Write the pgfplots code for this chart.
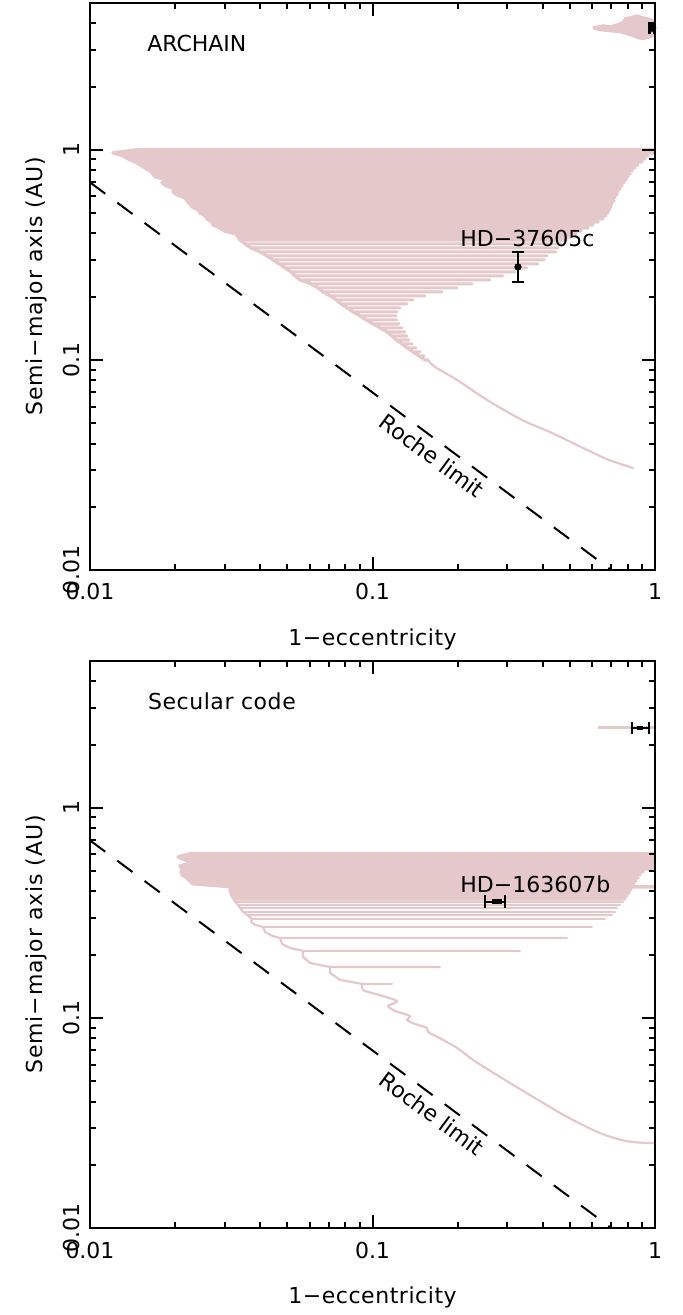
\documentclass[border=0pt]{standalone}
\usepackage{fontspec}
\setmainfont{DejaVu Sans}
\newfontfamily\widelabel[LetterSpace=4]{DejaVu Sans}
\newfontfamily\widetext[LetterSpace=2.5]{DejaVu Sans}
\usepackage{pgfplots}
\pgfplotsset{compat=1.18}
\definecolor{orbit}{RGB}{229,200,202}

\tikzset{
  orbitdense/.style={color=orbit, line width=1.7pt, line join=round, line cap=round},
  orbitline/.style={color=orbit, line width=1.6pt, line join=round, line cap=round},
  orbitthin/.style={color=orbit, line width=1.1pt, line join=round, line cap=round},
  roche/.style={color=black, line width=1pt, dash pattern=on 9.5pt off 7.5pt},
}

\begin{document}
\begin{tikzpicture}[font=\fontsize{11pt}{13pt}\selectfont]
\path[use as bounding box] (0,0) rectangle (341.5pt,657.5pt);

% ---------------- ARCHAIN ----------------
\begin{axis}[
    at={(45pt,372.5pt)}, anchor=south west,
    scale only axis, width=282.5pt, height=283.5pt,
    xmode=log, ymode=log,
    xmin=0.01, xmax=1, ymin=0.01, ymax=5,
    xtick={0.01,0.1,1}, xticklabels={0.01,0.1,1},
    ytick={0.01,0.1,1}, yticklabels={0.01,0.1,1},
    minor xtick={0.02,0.03,0.04,0.05,0.06,0.07,0.08,0.09,0.2,0.3,0.4,0.5,0.6,0.7,0.8,0.9},
    minor ytick={0.02,0.03,0.04,0.05,0.06,0.07,0.08,0.09,0.2,0.3,0.4,0.5,0.6,0.7,0.8,0.9,2,3,4},
    tick align=inside,
    major tick length=6.3pt, minor tick length=3pt,
    tick style={black, line width=1pt},
    axis line style={line width=1.1pt},
    xticklabel style={anchor=base, yshift=-15pt},
    yticklabel style={rotate=90, anchor=base, yshift=5pt},
    xlabel={\widetext 1−eccentricity}, ylabel={\widelabel Semi−major axis (AU)},
    xlabel style={at={(axis description cs:0.5,-0.134)}, anchor=base},
    ylabel style={at={(axis description cs:-0.0832,0.5)}, anchor=base},
    axis on top,
]
% outer companion, cloud of osculating elements
\addplot[color=orbit, fill=orbit, line width=0.5pt] coordinates {
(0.6034,3.852)(0.6545,3.938)(0.6929,3.895)(0.7336,3.981)(0.7642,4.070)
(0.7831,4.252)(0.8157,4.299)(0.8636,4.394)(0.9069,4.299)(0.9446,4.252)
(0.9838,4.160)(1.0,4.070)(1.0,3.490)(0.9601,3.415)(0.9069,3.341)
(0.8707,3.377)(0.8359,3.452)(0.7960,3.528)(0.7518,3.606)(0.6929,3.646)
(0.6387,3.687)(0.6034,3.769)(0.6034,3.852)};
% inner planet, eccentricity oscillations while the orbit shrinks
\addplot[orbitdense] coordinates {
(0.01467,1.0)(1,1.0)(0.01467,1.0)
(0.01206,0.9676)(1,0.9676)(0.01206,0.9676)
(0.01308,0.9363)(0.9446,0.9363)(0.01308,0.9363)
(0.01363,0.9060)(0.9218,0.9060)(0.01363,0.9060)
(0.01443,0.8767)(0.8995,0.8767)(0.01443,0.8767)
(0.01503,0.8483)(0.8707,0.8483)(0.01503,0.8483)
(0.01566,0.8209)(0.8497,0.8209)(0.01566,0.8209)
(0.01631,0.7943)(0.8291,0.7943)(0.01631,0.7943)
(0.01672,0.7686)(0.8157,0.7686)(0.01672,0.7686)
(0.01699,0.7437)(0.8025,0.7437)(0.01699,0.7437)
(0.01889,0.7197)(0.7895,0.7197)(0.01889,0.7197)
(0.01799,0.6964)(0.7767,0.6964)(0.01799,0.6964)
(0.01858,0.6739)(0.7642,0.6739)(0.01858,0.6739)
(0.01999,0.6520)(0.7518,0.6520)(0.01999,0.6520)
(0.01967,0.6310)(0.7396,0.6310)(0.01967,0.6310)
(0.02032,0.6105)(0.7336,0.6105)(0.02032,0.6105)
(0.02169,0.5908)(0.7218,0.5908)(0.02169,0.5908)
(0.02205,0.5717)(0.7159,0.5717)(0.02205,0.5717)
(0.02259,0.5532)(0.7043,0.5532)(0.02259,0.5532)
(0.02296,0.5353)(0.6986,0.5353)(0.02296,0.5353)
(0.02412,0.5179)(0.6929,0.5179)(0.02412,0.5179)
(0.02451,0.5012)(0.6817,0.5012)(0.02451,0.5012)
(0.02553,0.4850)(0.6707,0.4850)(0.02553,0.4850)
(0.02595,0.4693)(0.6545,0.4693)(0.02595,0.4693)
(0.02703,0.4541)(0.6284,0.4541)(0.02703,0.4541)
(0.02725,0.4394)(0.6034,0.4394)(0.02725,0.4394)
(0.02886,0.4252)(0.5792,0.4252)(0.02886,0.4252)
(0.02981,0.4114)(0.5471,0.4114)(0.02981,0.4114)
(0.03287,0.3981)(0.5252,0.3981)(0.03287,0.3981)
(0.03341,0.3852)(0.5042,0.3852)(0.03341,0.3852)
(0.03396,0.3728)(0.4841,0.3728)(0.03396,0.3728)
};
\addplot[orbitline] coordinates {
(0.03396,0.3728)
(0.03537,0.3568)(0.4648,0.3568)(0.03537,0.3568)
(0.03715,0.3415)(0.4536,0.3415)(0.03715,0.3415)
(0.03998,0.3268)(0.4463,0.3268)(0.03998,0.3268)
(0.04233,0.3128)(0.4147,0.3128)(0.04233,0.3128)
(0.04445,0.2994)(0.4047,0.2994)(0.04445,0.2994)
(0.04668,0.2865)(0.3854,0.2865)(0.04668,0.2865)
(0.04902,0.2742)(0.3523,0.2742)(0.04902,0.2742)
(0.05147,0.2625)(0.3195,0.2625)(0.05147,0.2625)
(0.05318,0.2512)(0.2897,0.2512)(0.05318,0.2512)
(0.05539,0.2404)(0.2606,0.2404)(0.05539,0.2404)
(0.06059,0.2301)(0.2250,0.2301)(0.06059,0.2301)
(0.06415,0.2202)(0.1992,0.2202)(0.06415,0.2202)
(0.06682,0.2108)(0.1762,0.2108)(0.06682,0.2108)
(0.07074,0.2017)(0.1534,0.2017)(0.07074,0.2017)
(0.07428,0.1931)(0.1391,0.1931)(0.07428,0.1931)
(0.07737,0.1848)(0.1325,0.1848)(0.07737,0.1848)
(0.08124,0.1769)(0.1251,0.1769)(0.08124,0.1769)
(0.08531,0.1693)(0.1221,0.1693)(0.08531,0.1693)
(0.09032,0.1620)(0.1211,0.1620)(0.09032,0.1620)
(0.09484,0.1551)(0.1221,0.1551)(0.09484,0.1551)
(0.1004,0.1484)(0.1241,0.1484)(0.1004,0.1484)
(0.1063,0.1421)(0.1272,0.1421)(0.1063,0.1421)
(0.1125,0.1359)(0.1303,0.1359)(0.1125,0.1359)
(0.1172,0.1301)(0.1325,0.1301)(0.1172,0.1301)
(0.1211,0.1245)(0.1346,0.1245)(0.1211,0.1245)
(0.1272,0.1192)(0.1380,0.1192)(0.1272,0.1192)
(0.1325,0.1141)(0.1425,0.1141)(0.1325,0.1141)
(0.1391,0.1092)(0.1473,0.1092)(0.1391,0.1092)
(0.1461,0.1045)(0.1521,0.1045)(0.1461,0.1045)
(0.1534,0.1000)(0.1572,0.1000)
};
% circularisation track
\addplot[orbitthin, smooth] coordinates {
(0.1572,0.1000)(0.1664,0.0926)(0.1992,0.0803)(0.2543,0.0645)(0.3382,0.0518)
(0.4319,0.0449)(0.5745,0.0373)(0.6873,0.0334)(0.8359,0.0306)
};
% Roche limit
\addplot[roche] coordinates {(0.01,0.7)(0.7,0.01)};
% observed planets
\addplot[color=black, line width=1pt, mark=-, mark size=3.2pt, mark options={solid, line width=1.1pt}]
  coordinates {(0.3273,0.235)(0.3273,0.327)};
\addplot[color=black, only marks, mark=*, mark size=1.6pt] coordinates {(0.3273,0.277)};
\addplot[color=black, line width=1.6pt, mark=|, mark size=3pt, mark options={solid, line width=1.3pt}]
  coordinates {(0.958,3.81)(0.997,3.81)};
\addplot[color=black, only marks, mark=*, mark size=1.8pt] coordinates {(0.978,3.81)};
\node[anchor=base west, inner sep=0pt] at (axis cs:0.0159,2.93) {ARCHAIN};
\node[anchor=base west, inner sep=0pt] at (axis cs:0.2041,0.3452) {HD−37605c};
\node[rotate=-36.6] at (axis cs:0.1624,0.0350) {Roche limit};
\end{axis}

% ---------------- Secular code ----------------
\begin{axis}[
    at={(45pt,43.5pt)}, anchor=south west,
    scale only axis, width=282.5pt, height=283.5pt,
    xmode=log, ymode=log,
    xmin=0.01, xmax=1, ymin=0.01, ymax=5,
    xtick={0.01,0.1,1}, xticklabels={0.01,0.1,1},
    ytick={0.01,0.1,1}, yticklabels={0.01,0.1,1},
    minor xtick={0.02,0.03,0.04,0.05,0.06,0.07,0.08,0.09,0.2,0.3,0.4,0.5,0.6,0.7,0.8,0.9},
    minor ytick={0.02,0.03,0.04,0.05,0.06,0.07,0.08,0.09,0.2,0.3,0.4,0.5,0.6,0.7,0.8,0.9,2,3,4},
    tick align=inside,
    major tick length=6.3pt, minor tick length=3pt,
    tick style={black, line width=1pt},
    axis line style={line width=1.1pt},
    xticklabel style={anchor=base, yshift=-15pt},
    yticklabel style={rotate=90, anchor=base, yshift=5pt},
    xlabel={\widetext 1−eccentricity}, ylabel={\widelabel Semi−major axis (AU)},
    xlabel style={at={(axis description cs:0.5,-0.134)}, anchor=base},
    ylabel style={at={(axis description cs:-0.0832,0.5)}, anchor=base},
    axis on top,
]
\addplot[color=orbit, line width=1.5pt] coordinates {(0.6284,2.40)(1.0,2.40)};
\addplot[orbitdense] coordinates {
(0.02259,0.6039)(1,0.6039)(0.02259,0.6039)
(0.02049,0.5843)(1,0.5843)(0.02049,0.5843)
(0.02169,0.5655)(1,0.5655)(0.02169,0.5655)
(0.02315,0.5470)(1,0.5470)(0.02315,0.5470)
(0.02083,0.5294)(1,0.5294)(0.02083,0.5294)
(0.02117,0.5123)(1,0.5123)(0.02117,0.5123)
(0.02100,0.4957)(0.9069,0.4957)(0.02100,0.4957)
(0.02117,0.4797)(0.8850,0.4797)(0.02117,0.4797)
(0.02205,0.4642)(0.8707,0.4642)(0.02205,0.4642)
(0.02259,0.4492)(0.8566,0.4492)(0.02259,0.4492)
(0.02315,0.4347)(0.8428,0.4347)(0.02315,0.4347)
(0.03208,0.4206)(1,0.4206)(0.03208,0.4206)
(0.03130,0.4070)(0.8224,0.4070)(0.03130,0.4070)
(0.03156,0.3939)(0.8091,0.3939)(0.03156,0.3939)
(0.03182,0.3811)(0.7960,0.3811)(0.03182,0.3811)
(0.03234,0.3688)(0.7831,0.3688)(0.03234,0.3688)
};
\addplot[orbitthin] coordinates {
(0.03234,0.3688)
(0.03260,0.3568)(0.7704,0.3568)(0.03260,0.3568)
(0.03341,0.3453)(0.7518,0.3453)(0.03341,0.3453)
(0.03396,0.3341)(0.7336,0.3341)(0.03396,0.3341)
(0.03480,0.3197)(0.7218,0.3197)(0.03480,0.3197)
(0.03596,0.3093)(0.7043,0.3093)(0.03596,0.3093)
(0.03745,0.2961)(0.6653,0.2961)(0.03745,0.2961)
(0.03715,0.2865)(0.03838,0.2772)
(0.04097,0.2712)(0.5984,0.2712)(0.04097,0.2712)
(0.04165,0.2567)(0.04409,0.2457)
(0.04706,0.2404)(0.4881,0.2404)(0.04706,0.2404)
(0.04783,0.2251)(0.05105,0.2154)
(0.05676,0.2085)(0.3328,0.2085)(0.05676,0.2085)
(0.05676,0.1952)(0.06010,0.1827)
(0.07074,0.1749)(0.1734,0.1749)(0.07074,0.1749)
(0.07074,0.1638)(0.07674,0.1517)
(0.09181,0.1452)(0.1172,0.1452)(0.09181,0.1452)
};
\addplot[orbitthin, smooth, tension=0.45] coordinates {
(0.09181,0.1452)(0.09256,0.1359)(0.09959,0.1315)(0.1221,0.1205)(0.1135,0.1141)
(0.1201,0.1080)(0.1357,0.1022)(0.1325,0.0978)(0.1414,0.0936)(0.1559,0.0896)
(0.1572,0.0858)(0.1776,0.0786)(0.1992,0.0720)(0.2269,0.0631)(0.2827,0.0524)
(0.3700,0.0421)(0.4881,0.0338)(0.6387,0.0283)(0.7831,0.0260)(0.9218,0.0254)
(1.0,0.0254)
};
\addplot[roche] coordinates {(0.01,0.7)(0.7,0.01)};
\addplot[color=black, line width=1.1pt, mark=|, mark size=3.2pt, mark options={solid, line width=1.2pt}]
  coordinates {(0.250,0.357)(0.294,0.357)};
\addplot[color=black, line width=2.4pt] coordinates {(0.265,0.357)(0.288,0.357)};
\addplot[color=black, line width=1.1pt, mark=|, mark size=3.2pt, mark options={solid, line width=1.2pt}]
  coordinates {(0.829,2.40)(0.952,2.40)};
\addplot[color=black, line width=2.4pt] coordinates {(0.866,2.40)(0.907,2.40)};
\node[anchor=base west, inner sep=0pt] at (axis cs:0.0160,2.93) {\widetext Secular code};
\node[anchor=base west, inner sep=0pt] at (axis cs:0.2041,0.3939) {HD−163607b};
\node[rotate=-36.6] at (axis cs:0.1624,0.0350) {Roche limit};
\end{axis}
\end{tikzpicture}
\end{document}
